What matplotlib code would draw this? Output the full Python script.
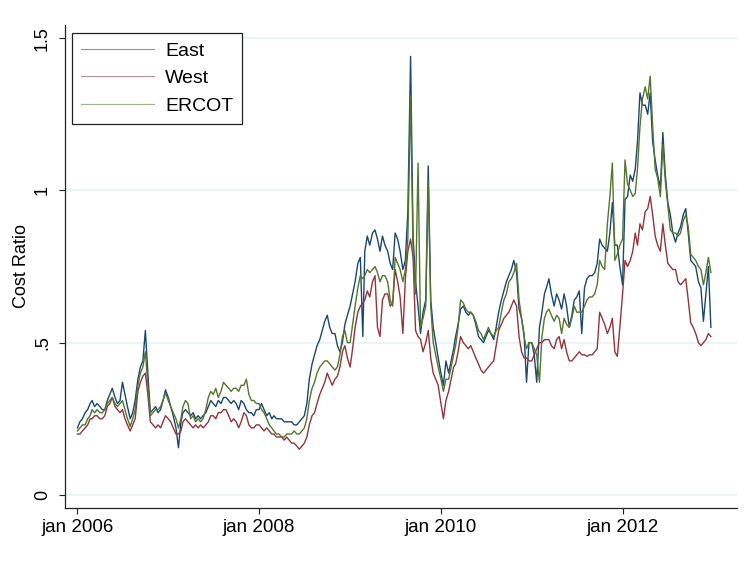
import numpy as np
import pandas as pd
import matplotlib
matplotlib.use("Agg")
import matplotlib.pyplot as plt

plt.rcParams['font.family'] = ['Liberation Sans', 'DejaVu Sans']

# ---------------- data (3 points per month: day 1, 11, 21) ----------------
years = list(range(2006, 2013))
days = [1, 11, 21]

east = [
    0.22, 0.24, 0.25, 0.27, 0.28, 0.30, 0.31, 0.29, 0.30, 0.29, 0.28, 0.28, 0.31, 0.33, 0.35, 0.32, 0.30, 0.31,
    0.37, 0.33, 0.29, 0.25, 0.27, 0.31, 0.38, 0.42, 0.44, 0.54, 0.40, 0.27, 0.28, 0.29, 0.27, 0.28, 0.31, 0.345,
    0.32, 0.29, 0.26, 0.22, 0.155, 0.24, 0.27, 0.28, 0.27, 0.26, 0.27, 0.25, 0.26, 0.25, 0.26, 0.27, 0.29, 0.31,
    0.30, 0.29, 0.31, 0.30, 0.32, 0.32, 0.31, 0.30, 0.31, 0.30, 0.28, 0.31, 0.30, 0.28, 0.27, 0.27, 0.26, 0.28,
    0.28, 0.30, 0.28, 0.26, 0.27, 0.25, 0.26, 0.25, 0.25, 0.25, 0.24, 0.24, 0.24, 0.24, 0.23, 0.23, 0.24, 0.25,
    0.26, 0.30, 0.38, 0.43, 0.46, 0.49, 0.51, 0.54, 0.57, 0.59, 0.55, 0.53, 0.53, 0.49, 0.47, 0.50, 0.56, 0.59,
    0.62, 0.66, 0.70, 0.76, 0.78, 0.52, 0.80, 0.85, 0.82, 0.86, 0.87, 0.84, 0.80, 0.85, 0.82, 0.80, 0.76, 0.74,
    0.86, 0.84, 0.80, 0.74, 0.77, 0.93, 1.44, 0.85, 0.70, 0.62, 0.53, 0.60, 0.64, 1.08, 0.64, 0.55, 0.50, 0.45,
    0.40, 0.36, 0.44, 0.40, 0.44, 0.48, 0.52, 0.56, 0.61, 0.62, 0.60, 0.59, 0.60, 0.59, 0.56, 0.52, 0.51, 0.50,
    0.52, 0.54, 0.53, 0.51, 0.55, 0.60, 0.64, 0.67, 0.70, 0.72, 0.74, 0.77, 0.73, 0.61, 0.58, 0.53, 0.37, 0.50,
    0.50, 0.46, 0.37, 0.55, 0.60, 0.66, 0.68, 0.71, 0.66, 0.62, 0.66, 0.64, 0.61, 0.66, 0.62, 0.55, 0.59, 0.64,
    0.65, 0.67, 0.53, 0.68, 0.71, 0.72, 0.72, 0.73, 0.76, 0.84, 0.82, 0.81, 0.80, 0.86, 0.96, 0.82, 0.82, 0.75,
    0.69, 0.97, 0.98, 1.05, 1.03, 1.07, 1.16, 1.32, 1.28, 1.28, 1.25, 1.32, 1.16, 1.10, 1.05, 1.01, 1.19, 1.05,
    0.96, 0.92, 0.86, 0.83, 0.86, 0.88, 0.92, 0.94, 0.86, 0.77, 0.76, 0.75, 0.70, 0.68, 0.57, 0.66, 0.75, 0.55,
]

west = [
    0.20, 0.20, 0.21, 0.22, 0.23, 0.25, 0.25, 0.26, 0.26, 0.25, 0.25, 0.26, 0.29, 0.30, 0.32, 0.29, 0.28, 0.27,
    0.28, 0.25, 0.23, 0.21, 0.23, 0.25, 0.34, 0.37, 0.39, 0.40, 0.33, 0.24, 0.23, 0.22, 0.23, 0.22, 0.24, 0.26,
    0.25, 0.24, 0.22, 0.20, 0.20, 0.21, 0.24, 0.25, 0.24, 0.23, 0.22, 0.23, 0.22, 0.23, 0.22, 0.23, 0.24, 0.26,
    0.26, 0.25, 0.27, 0.27, 0.28, 0.28, 0.26, 0.24, 0.25, 0.24, 0.22, 0.24, 0.27, 0.26, 0.23, 0.22, 0.22, 0.23,
    0.23, 0.22, 0.21, 0.22, 0.21, 0.20, 0.20, 0.19, 0.19, 0.19, 0.18, 0.19, 0.18, 0.17, 0.17, 0.16, 0.15, 0.16,
    0.17, 0.19, 0.23, 0.26, 0.27, 0.30, 0.33, 0.35, 0.37, 0.40, 0.38, 0.36, 0.38, 0.39, 0.42, 0.47, 0.49, 0.45,
    0.42, 0.48, 0.55, 0.60, 0.62, 0.63, 0.64, 0.67, 0.65, 0.70, 0.72, 0.55, 0.52, 0.64, 0.66, 0.66, 0.62, 0.63,
    0.74, 0.70, 0.65, 0.53, 0.71, 0.80, 0.84, 0.78, 0.54, 0.52, 0.51, 0.47, 0.50, 0.54, 0.45, 0.40, 0.38, 0.36,
    0.30, 0.25, 0.31, 0.34, 0.38, 0.42, 0.43, 0.47, 0.52, 0.50, 0.49, 0.48, 0.49, 0.47, 0.45, 0.43, 0.41, 0.40,
    0.41, 0.42, 0.43, 0.44, 0.49, 0.54, 0.56, 0.58, 0.59, 0.60, 0.62, 0.64, 0.62, 0.52, 0.47, 0.45, 0.45, 0.44,
    0.44, 0.46, 0.48, 0.50, 0.50, 0.51, 0.51, 0.51, 0.49, 0.48, 0.51, 0.52, 0.48, 0.51, 0.47, 0.44, 0.44, 0.45,
    0.46, 0.47, 0.46, 0.46, 0.455, 0.46, 0.46, 0.47, 0.48, 0.60, 0.58, 0.56, 0.53, 0.55, 0.58, 0.47, 0.455, 0.55,
    0.66, 0.77, 0.75, 0.77, 0.80, 0.86, 0.82, 0.89, 0.87, 0.93, 0.94, 0.98, 0.92, 0.85, 0.82, 0.80, 0.89, 0.82,
    0.76, 0.75, 0.74, 0.74, 0.70, 0.69, 0.70, 0.71, 0.64, 0.565, 0.55, 0.53, 0.50, 0.49, 0.50, 0.51, 0.53, 0.52,
]

ercot = [
    0.21, 0.22, 0.23, 0.23, 0.25, 0.26, 0.28, 0.27, 0.28, 0.27, 0.27, 0.28, 0.30, 0.31, 0.32, 0.30, 0.29, 0.30,
    0.31, 0.28, 0.25, 0.225, 0.25, 0.28, 0.36, 0.40, 0.42, 0.47, 0.36, 0.26, 0.27, 0.28, 0.28, 0.29, 0.31, 0.335,
    0.31, 0.29, 0.27, 0.25, 0.22, 0.25, 0.29, 0.31, 0.30, 0.25, 0.26, 0.24, 0.25, 0.24, 0.25, 0.28, 0.32, 0.34,
    0.33, 0.35, 0.32, 0.34, 0.37, 0.36, 0.35, 0.34, 0.35, 0.35, 0.34, 0.36, 0.36, 0.38, 0.33, 0.31, 0.31, 0.30,
    0.30, 0.28, 0.27, 0.25, 0.23, 0.22, 0.21, 0.20, 0.20, 0.19, 0.19, 0.20, 0.20, 0.20, 0.21, 0.20, 0.20, 0.21,
    0.22, 0.25, 0.31, 0.35, 0.37, 0.40, 0.42, 0.43, 0.44, 0.44, 0.43, 0.42, 0.41, 0.42, 0.46, 0.52, 0.54, 0.50,
    0.50, 0.56, 0.62, 0.68, 0.72, 0.71, 0.72, 0.74, 0.73, 0.74, 0.75, 0.73, 0.70, 0.72, 0.72, 0.70, 0.64, 0.62,
    0.78, 0.76, 0.74, 0.70, 0.74, 0.84, 1.31, 0.80, 0.66, 1.09, 0.55, 0.58, 0.62, 1.03, 0.62, 0.50, 0.46, 0.42,
    0.38, 0.34, 0.38, 0.38, 0.42, 0.46, 0.49, 0.55, 0.64, 0.63, 0.61, 0.60, 0.60, 0.59, 0.57, 0.54, 0.53, 0.51,
    0.53, 0.55, 0.53, 0.52, 0.54, 0.55, 0.60, 0.64, 0.66, 0.70, 0.71, 0.73, 0.76, 0.64, 0.58, 0.52, 0.48, 0.50,
    0.50, 0.48, 0.46, 0.37, 0.52, 0.58, 0.60, 0.61, 0.59, 0.57, 0.59, 0.58, 0.53, 0.58, 0.56, 0.55, 0.58, 0.62,
    0.60, 0.60, 0.60, 0.62, 0.64, 0.65, 0.65, 0.66, 0.69, 0.77, 0.75, 0.74, 0.89, 0.98, 1.09, 0.77, 0.79, 0.82,
    0.84, 1.10, 1.02, 1.00, 0.98, 0.99, 1.07, 1.21, 1.30, 1.34, 1.30, 1.375, 1.21, 1.07, 1.04, 0.98, 1.15, 1.03,
    0.95, 0.87, 0.86, 0.86, 0.85, 0.86, 0.90, 0.92, 0.88, 0.79, 0.78, 0.77, 0.75, 0.74, 0.69, 0.73, 0.78, 0.73,
]

series_names = ["East", "West", "ERCOT"]
series_colors = ["#1a476f", "#90353b", "#55752f"]
ytick_vals = [0, 0.5, 1, 1.5]
ytick_labels = ["0", ".5", "1", "1.5"]
xtick_years = [2006, 2008, 2010, 2012]
xtick_labels = ["jan 2006", "jan 2008", "jan 2010", "jan 2012"]
# -------------------------------------------------------------------------

dates = [pd.Timestamp(y, m, d) for y in years for m in range(1, 13) for d in days]
assert len(dates) == len(east) == len(west) == len(ercot)

df = pd.DataFrame({"date": dates, "East": east, "West": west, "ERCOT": ercot})

fig = plt.figure(figsize=(7.48, 5.61), dpi=100)
ax = fig.add_axes([65 / 748, 1 - 508 / 561, 672 / 748, 483 / 561])

# gridlines
for yv in ytick_vals:
    ax.axhline(yv, color="#eaf2f3", lw=1.2, zorder=0)

for name, col in zip(series_names, series_colors):
    ax.plot(df["date"], df[name], color=col, lw=1.0, label=name, zorder=2)

ax.set_ylim(-0.043, 1.543)
ax.set_xlim(pd.Timestamp(2005, 11, 12), pd.Timestamp(2013, 4, 5))

ax.set_yticks(ytick_vals)
ax.set_yticklabels(ytick_labels, rotation=90, va="center", fontsize=13)
ax.set_xticks([pd.Timestamp(y, 1, 1) for y in xtick_years])
ax.set_xticklabels(xtick_labels, fontsize=13.5)

ax.tick_params(axis="both", direction="out", length=4, width=0.8, color="#222222")
ax.tick_params(axis="y", pad=6)
ax.tick_params(axis="x", pad=4)

for s in ["top", "right"]:
    ax.spines[s].set_visible(False)
for s in ["left", "bottom"]:
    ax.spines[s].set_linewidth(0.9)
    ax.spines[s].set_color("#222222")

ax.set_ylabel("Cost Ratio", fontsize=13, labelpad=3)

leg = ax.legend(loc="upper left", bbox_to_anchor=(0.0104, 0.983), fontsize=14,
                frameon=True, fancybox=False, edgecolor="#222222", framealpha=1,
                handlelength=3.75, handletextpad=0.6, labelspacing=0.52,
                borderpad=0.45, borderaxespad=0)
leg.get_frame().set_linewidth(0.9)
for line in leg.get_lines():
    line.set_linewidth(0.8)
    line.set_alpha(0.55)

fig.savefig("out.png", dpi=100)
